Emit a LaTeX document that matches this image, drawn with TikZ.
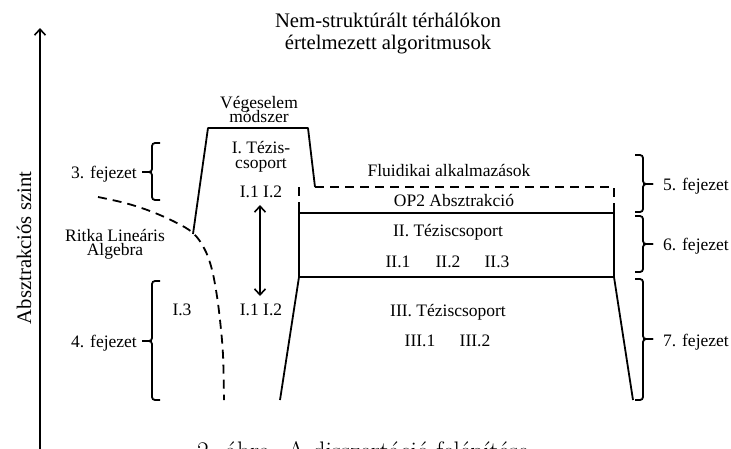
\documentclass[tikz,border=0pt]{standalone}
\usepackage{fontspec}
\newfontfamily\figfont{Liberation Serif}
\usetikzlibrary{arrows.meta}
\tikzset{
  lbl/.style={inner sep=0pt, anchor=base, align=center,
    font=\figfont\fontsize{17.5}{15}\selectfont},
  biglbl/.style={inner sep=0pt, anchor=base, align=center,
    font=\figfont\fontsize{20.7}{22}\selectfont},
  ln/.style={line width=1.8pt, line join=round},
  dsh/.style={ln, dash pattern=on 9pt off 6pt},
  brc/.style={line width=1.8pt, rounded corners=3pt},
  barb/.style={ln, arrows={-Straight Barb[length=6pt, width=11pt, line width=1.6pt]}},
  dbarb/.style={ln, arrows={Straight Barb[length=6pt, width=11pt, line width=1.6pt]-Straight Barb[length=6pt, width=11pt, line width=1.6pt]}}
}
\begin{document}
\begin{tikzpicture}[x=1pt, y=-1pt]
\useasboundingbox (0,0) rectangle (731,448);

% abstraction axis
\coordinate (axbot) at (40,450);
\coordinate (axtop) at (40,28);
\draw[barb] (axbot) -- (axtop);
\node[biglbl, rotate=90] (axlbl) at (31,248) {Absztrakciós szint};

% heading
\node[biglbl] (head1) at (388,27) {Nem-struktúrált térhálókon};
\node[biglbl] (head2) at (388,49) {értelmezett algoritmusok};

% first thesis group (finite element block)
\node[lbl] (fem1) at (259,108) {Végeselem};
\node[lbl] (fem2) at (259,122) {módszer};
\node[lbl] (tz1a) at (261,153) {I. Tézis-};
\node[lbl] (tz1b) at (261,168) {csoport};
\node[lbl] (i12a) at (261,197) {I.1 I.2};
\node[lbl] (i12b) at (261,315) {I.1 I.2};
\node[lbl] (i3) at (182,315) {I.3};
\coordinate (arrtop) at (260,205);
\coordinate (arrbot) at (260,296);
\draw[dbarb] (arrtop) -- (arrbot);

% sparse linear algebra boundary
\node[lbl] (rla1) at (115,241) {Ritka Lineáris};
\node[lbl] (rla2) at (115,255) {Algebra};
\draw[dsh] plot[smooth, tension=0.6] coordinates
  {(98,197) (125,203) (150,211) (175,222) (193,233) (204,248) (211,266) (216,290) (220,320) (223,355) (224,400)};

% outline of the finite element block
\draw[ln] (193,234) -- (208,128) -- (308,128) -- (315,187);
\draw[dsh] (315,187) -- (614,187) -- (614,213);
\draw[dsh] (299,187) -- (299,213);

% OP2 / second and third thesis groups
\draw[ln] (299,213) -- (614,213);
\draw[ln] (299,277) -- (614,277);
\draw[ln] (280,400) -- (299,277) -- (299,205);
\draw[ln] (633,400) -- (614,277) -- (614,205);

\node[lbl] (fluid) at (449,176) {Fluidikai alkalmazások};
\node[lbl] (op2) at (454,206) {OP2 Absztrakció};
\node[lbl] (tz2) at (448,236) {II. Téziscsoport};
\node[lbl] (ii1) at (398,267) {II.1};
\node[lbl] (ii2) at (448,267) {II.2};
\node[lbl] (ii3) at (497,267) {II.3};
\node[lbl] (tz3) at (448,316) {III. Téziscsoport};
\node[lbl] (iii1) at (420,346) {III.1};
\node[lbl] (iii2) at (475,346) {III.2};

% chapter braces, left
\draw[brc] (160,143) -- (152,143) -- (152,172) -- (142,172);
\draw[brc] (142,172) -- (152,172) -- (152,200) -- (160,200);
\node[lbl, anchor=base east] (ch3) at (137,178) {3. fejezet};
\draw[brc] (160,281) -- (152,281) -- (152,341) -- (142,341);
\draw[brc] (142,341) -- (152,341) -- (152,400) -- (160,400);
\node[lbl, anchor=base east] (ch4) at (137,347) {4. fejezet};

% chapter braces, right
\draw[brc] (635,155) -- (643,155) -- (643,184) -- (653,184);
\draw[brc] (653,184) -- (643,184) -- (643,212) -- (635,212);
\node[lbl, anchor=base west] (ch5) at (663,190) {5. fejezet};
\draw[brc] (635,216) -- (643,216) -- (643,244) -- (653,244);
\draw[brc] (653,244) -- (643,244) -- (643,272) -- (635,272);
\node[lbl, anchor=base west] (ch6) at (663,250) {6. fejezet};
\draw[brc] (635,279) -- (643,279) -- (643,339) -- (653,339);
\draw[brc] (653,339) -- (643,339) -- (643,400) -- (635,400);
\node[lbl, anchor=base west] (ch7) at (663,346) {7. fejezet};

% figure caption
\node[inner sep=0pt, anchor=base west, font=\rmfamily\fontsize{25.4}{30}\selectfont] (capt) at (197,459) {2. ábra. A disszertáció felépítése};
\end{tikzpicture}
\end{document}
